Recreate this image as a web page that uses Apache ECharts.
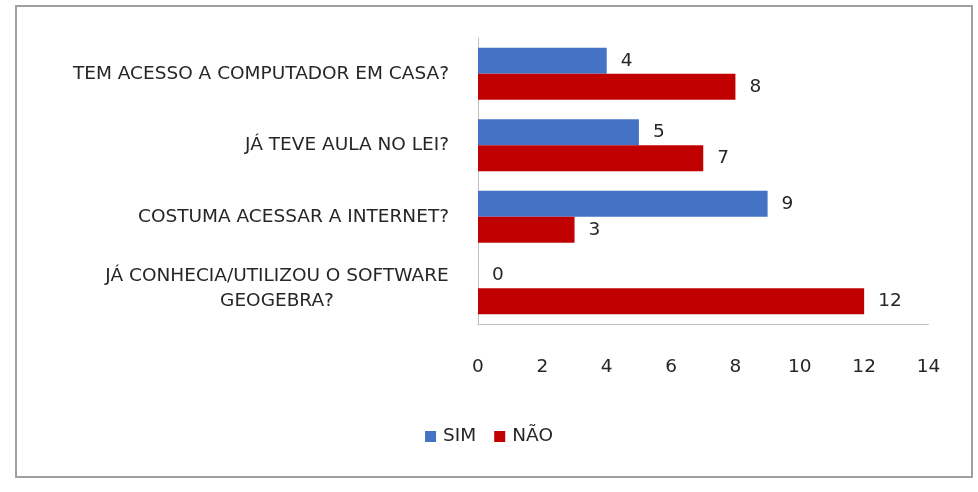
<!DOCTYPE html>
<html><head><meta charset="utf-8">
<script src="https://cdn.jsdelivr.net/npm/echarts@6/dist/echarts.min.js"></script>
<style>html,body{margin:0;padding:0;background:#fff}#c{width:978px;height:492px}</style>
</head><body><div id="c"></div>
<script>
const categories = ['JÁ CONHECIA/UTILIZOU O SOFTWARE GEOGEBRA?', 'COSTUMA ACESSAR A INTERNET?', 'JÁ TEVE AULA NO LEI?', 'TEM ACESSO A COMPUTADOR EM CASA?'];
const simValues = [0, 9, 5, 4];
const naoValues = [12, 3, 7, 8];
const xTicks = [0, 2, 4, 6, 8, 10, 12, 14];

const FONT = 'DejaVu Sans';
const FS = 18.5;
const TXT = '#262626';

const wrapLine1 = 'JÁ CONHECIA/UTILIZOU O SOFTWARE';
const wrapLine2 = 'GEOGEBRA?';
const ctx = document.createElement('canvas').getContext('2d');
ctx.font = FS + 'px "' + FONT + '"';
const W1 = Math.ceil(ctx.measureText(wrapLine1).width);

const chart = echarts.init(document.getElementById('c'));
const labelStyle = {show: true, position: 'right', distance: 14, color: TXT, fontSize: FS, fontFamily: FONT};
chart.setOption({
  animation: false,
  graphic: [{type: 'rect', shape: {x: 16, y: 6, width: 956, height: 471}, style: {fill: 'none', stroke: '#a0a0a0', lineWidth: 2}}],
  grid: {left: 478, right: 49.5, top: 38, bottom: 168, containLabel: false},
  legend: {data: ['SIM', 'NÃO'], bottom: 41, left: 'center', itemWidth: 11, itemHeight: 11, itemGap: 18,
    textStyle: {color: TXT, fontSize: FS, fontFamily: FONT, padding: [0, 0, 0, 2]}, icon: 'rect'},
  xAxis: {type: 'value', min: 0, max: 14, interval: 2,
    axisLine: {show: true, lineStyle: {color: '#bfbfbf'}}, axisTick: {show: false}, splitLine: {show: false},
    axisLabel: {margin: 34, color: TXT, fontSize: FS, fontFamily: FONT,
      formatter: v => xTicks.includes(v) ? String(v) : ''}},
  yAxis: {type: 'category', data: categories,
    axisLine: {show: true, lineStyle: {color: '#bfbfbf'}}, axisTick: {show: false},
    axisLabel: {margin: 29, color: TXT, fontSize: FS, fontFamily: FONT, lineHeight: 25,
      formatter: v => v.length > 35 ? '{c|' + wrapLine1 + '}\n{c|' + wrapLine2 + '}' : v,
      rich: {c: {width: W1, align: 'center', color: TXT, fontSize: FS, fontFamily: FONT, lineHeight: 25}}}},
  series: [
    {name: 'SIM', type: 'bar', data: simValues, barWidth: 26, barGap: '0%', itemStyle: {color: '#4472C4'}, label: labelStyle},
    {name: 'NÃO', type: 'bar', data: naoValues, barWidth: 26, barGap: '0%', itemStyle: {color: '#C00000'}, label: labelStyle}
  ]
});
</script></body></html>
